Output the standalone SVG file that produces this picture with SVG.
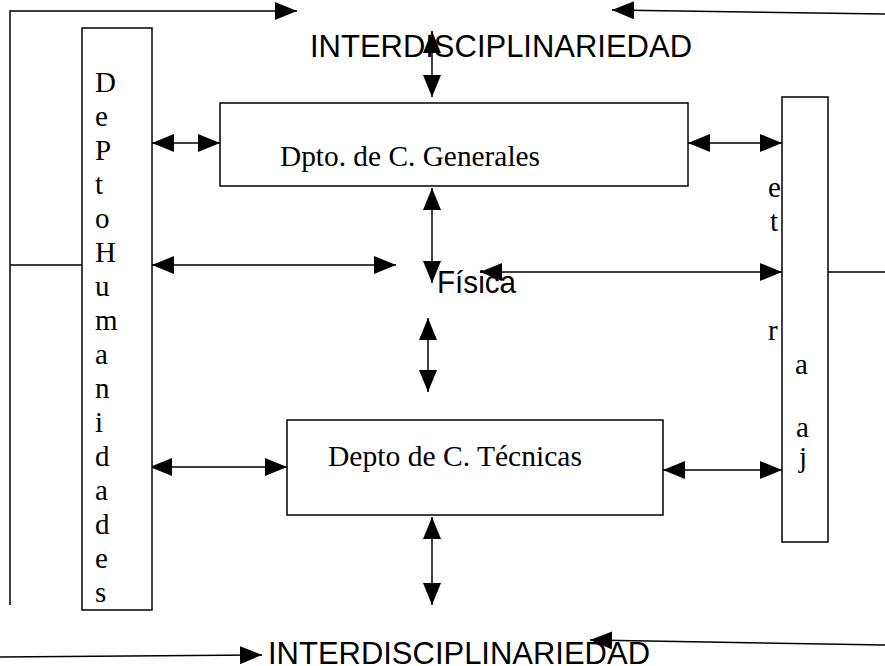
<svg xmlns="http://www.w3.org/2000/svg" width="885" height="666" viewBox="0 0 885 666">
<style>
.box{fill:#fff;stroke:#000;stroke-width:1.5}
.ln{fill:none;stroke:#000;stroke-width:1.5}
.ar{fill:none;stroke:#000;stroke-width:1.5;marker-end:url(#ah)}
.dbl{fill:none;stroke:#000;stroke-width:1.5;marker-start:url(#ah);marker-end:url(#ah)}
.serif{font-family:"Liberation Serif","Times New Roman",serif;font-size:29px;fill:#000}
.sans{font-family:"Liberation Sans",Arial,sans-serif;font-size:32px;fill:#000}
</style>
<defs>
<marker id="ah" markerUnits="userSpaceOnUse" markerWidth="22" markerHeight="18" refX="22" refY="9" orient="auto-start-reverse" viewBox="0 0 22 18">
<path d="M0,0 L22,9 L0,18 z" fill="#000"/>
</marker>
</defs>

<g id="connectors">
<polyline class="ar" points="10,605 10,11 297,11"/>
<line class="ar" x1="885" y1="14" x2="612" y2="10"/>
<line class="ln" x1="10" y1="265" x2="82" y2="265"/>
<line class="ln" x1="828" y1="272" x2="885" y2="272"/>
<line class="dbl" x1="432" y1="31" x2="432" y2="97"/>
<line class="dbl" x1="152" y1="143" x2="220" y2="143"/>
<line class="dbl" x1="688" y1="143" x2="782" y2="143"/>
<line class="dbl" x1="432" y1="188" x2="432" y2="283"/>
<line class="dbl" x1="152" y1="265" x2="396" y2="265"/>
<line class="dbl" x1="480" y1="272" x2="782" y2="272"/>
<line class="dbl" x1="428" y1="318" x2="428" y2="392"/>
<line class="dbl" x1="150" y1="467" x2="287" y2="467"/>
<line class="dbl" x1="663" y1="470" x2="782" y2="470"/>
<line class="dbl" x1="432" y1="517" x2="432" y2="605"/>
<line class="ar" x1="0" y1="657" x2="262" y2="655"/>
<line class="ar" x1="885" y1="645" x2="590" y2="640"/>
</g>

<g id="interdisciplinariedad-top">
<text class="sans" x="310" y="57" textLength="382" lengthAdjust="spacingAndGlyphs">INTERDISCIPLINARIEDAD</text>
</g>
<g id="interdisciplinariedad-bottom">
<text class="sans" x="268" y="664" textLength="382" lengthAdjust="spacingAndGlyphs">INTERDISCIPLINARIEDAD</text>
</g>

<g id="depto-humanidades">
<rect class="box" x="82" y="28" width="70" height="582"/>
<text class="serif">
<tspan x="95" y="92">D</tspan>
<tspan x="95" y="126">e</tspan>
<tspan x="95" y="160">P</tspan>
<tspan x="95" y="194">t</tspan>
<tspan x="95" y="228">o</tspan>
<tspan x="95" y="262">H</tspan>
<tspan x="95" y="296">u</tspan>
<tspan x="95" y="330">m</tspan>
<tspan x="95" y="364">a</tspan>
<tspan x="95" y="398">n</tspan>
<tspan x="95" y="432">i</tspan>
<tspan x="95" y="466">d</tspan>
<tspan x="95" y="500">a</tspan>
<tspan x="95" y="534">d</tspan>
<tspan x="95" y="568">e</tspan>
<tspan x="95" y="602">s</tspan>
</text>
</g>

<g id="dpto-generales">
<rect class="box" x="220" y="103" width="468" height="83"/>
<text class="serif" x="280" y="166" textLength="260" lengthAdjust="spacingAndGlyphs">Dpto. de C. Generales</text>
</g>

<g id="fisica">
<text class="sans" x="437" y="293" textLength="79" lengthAdjust="spacingAndGlyphs">Física</text>
</g>

<g id="depto-tecnicas">
<rect class="box" x="287" y="420" width="376" height="95"/>
<text class="serif" x="328" y="466" textLength="254" lengthAdjust="spacingAndGlyphs">Depto de C. Técnicas</text>
</g>

<g id="trabajo">
<rect class="box" x="782" y="97" width="46" height="445"/>
<text class="serif">
<tspan x="768" y="197">e</tspan>
<tspan x="770" y="231">t</tspan>
<tspan x="768" y="340">r</tspan>
<tspan x="795" y="374">a</tspan>
<tspan x="796" y="437">a</tspan>
<tspan x="799" y="467">j</tspan>
</text>
</g>
</svg>
